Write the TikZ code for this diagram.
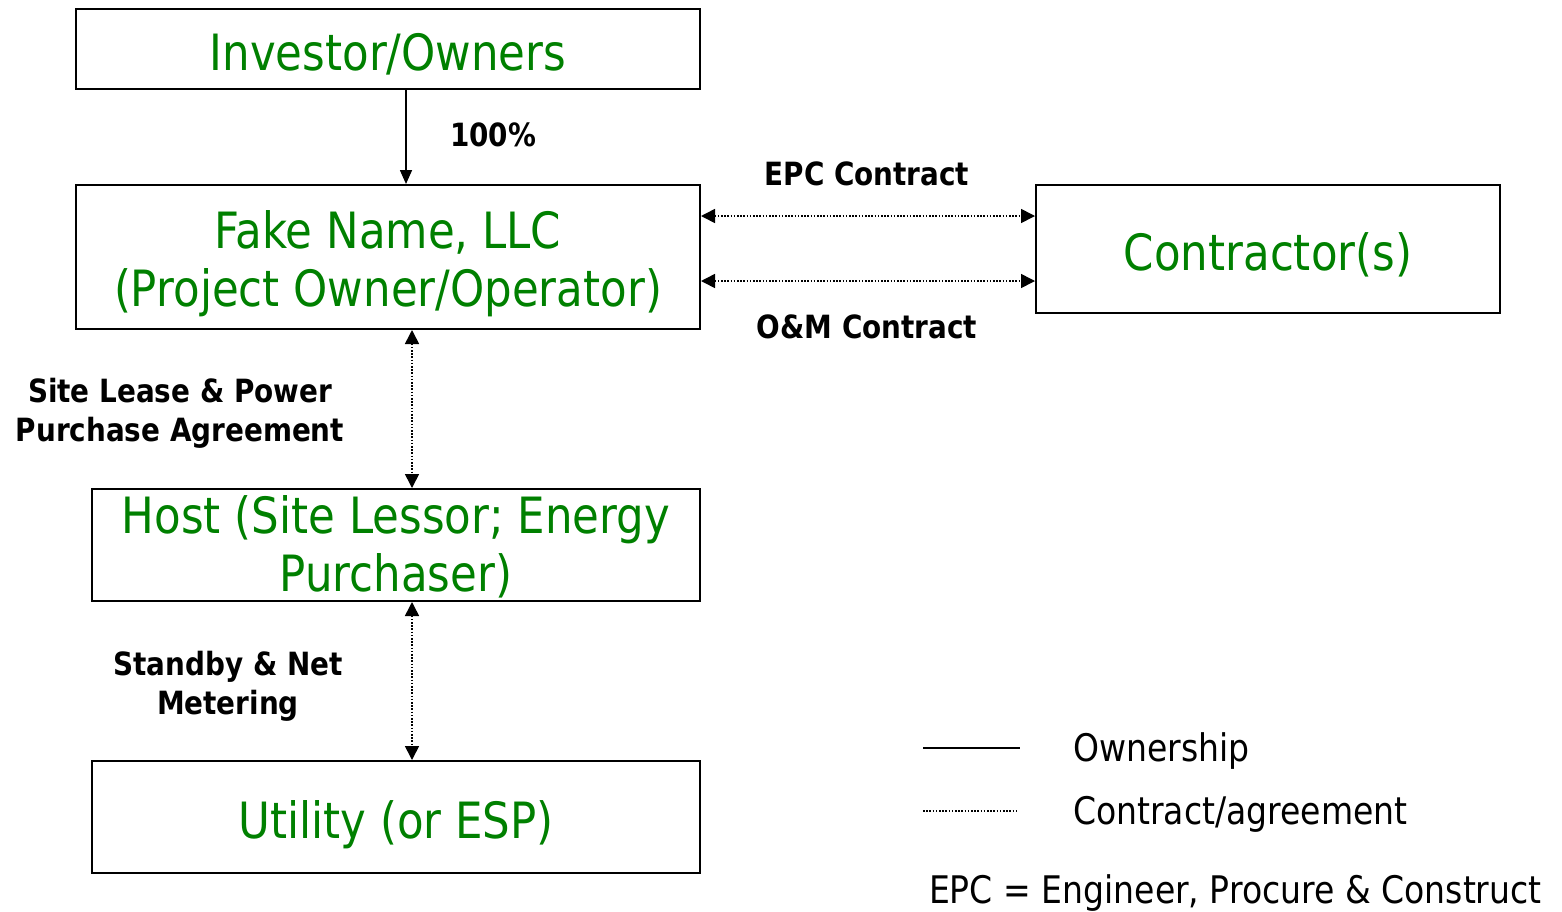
\documentclass[tikz,border=0pt]{standalone}
\usepackage{fontspec}
\setmainfont[FakeStretch=0.87]{DejaVu Sans}
\usetikzlibrary{arrows.meta}
\definecolor{boxgreen}{RGB}{0,128,0}
\begin{document}
\begin{tikzpicture}[
   x=0.5pt,y=-0.5pt,
   party/.style={draw,line width=1pt,inner sep=0pt,text=boxgreen,align=center,
      font=\fontsize{25}{29}\selectfont,text height=24pt,text depth=3pt},
   own/.style={-{Triangle[length=7pt,width=6pt]},line width=0.8pt},
   deal/.style={{Triangle[length=7pt,width=7pt]}-{Triangle[length=7pt,width=7pt]},
      line width=0.8pt,dash pattern=on 0.8pt off 0.8pt},
   tag/.style={font=\bfseries\fontsize{16}{19.5}\selectfont,align=center},
   key/.style={font=\fontsize{19}{23}\selectfont,anchor=west}]
\useasboundingbox (0,0) rectangle (1562,911);
% parties
\node[party,minimum width=312pt,minimum height=40pt] (IO) at (388,49) {Investor/Owners};
\node[party,minimum width=312pt,minimum height=72pt,text height=54pt,text depth=5pt]
   (LLC) at (388,257) {Fake Name, LLC\\(Project Owner/Operator)};
\node[party,minimum width=232pt,minimum height=64pt] (CT) at (1268,249) {Contractor(s)};
\node[party,minimum width=304pt,minimum height=56pt,text height=51pt,text depth=4.5pt]
   (H) at (396,545) {Host (Site Lessor; Energy\\Purchaser)};
\node[party,minimum width=304pt,minimum height=56pt] (U) at (396,817) {Utility (or ESP)};
% links
\draw[own] (IO.south -| 406,0) -- (LLC.north -| 406,0);
\node[tag,anchor=west] (pct) at (443,135) {100\%};
\draw[deal] (LLC.east |- 0,216) -- (CT.west |- 0,216);
\draw[deal] (LLC.east |- 0,281) -- (CT.west |- 0,281);
\node[tag] (epc) at (867,174) {EPC Contract};
\node[tag] (om) at (867,327) {O\&M Contract};
\draw[deal] (LLC.south -| 412,0) -- (H.north -| 412,0);
\node[tag] (ppa) at (180,413) {Site Lease \& Power\\Purchase Agreement};
\draw[deal] (H.south -| 412,0) -- (U.north -| 412,0);
\node[tag] (nem) at (228,686) {Standby \& Net\\Metering};
% legend
\coordinate (l1a) at (923,748); \coordinate (l1b) at (1020,748);
\coordinate (l2a) at (923,811); \coordinate (l2b) at (1017,811);
\draw[line width=1pt] (l1a) -- (l1b);
\draw[line width=0.8pt,dash pattern=on 0.8pt off 0.8pt] (l2a) -- (l2b);
\node[key] (k1) at (1066,751) {Ownership};
\node[key] (k2) at (1066,814) {Contract/agreement};
\node[key] (k3) at (922,893) {EPC = Engineer, Procure \& Construct};
\end{tikzpicture}
\end{document}
